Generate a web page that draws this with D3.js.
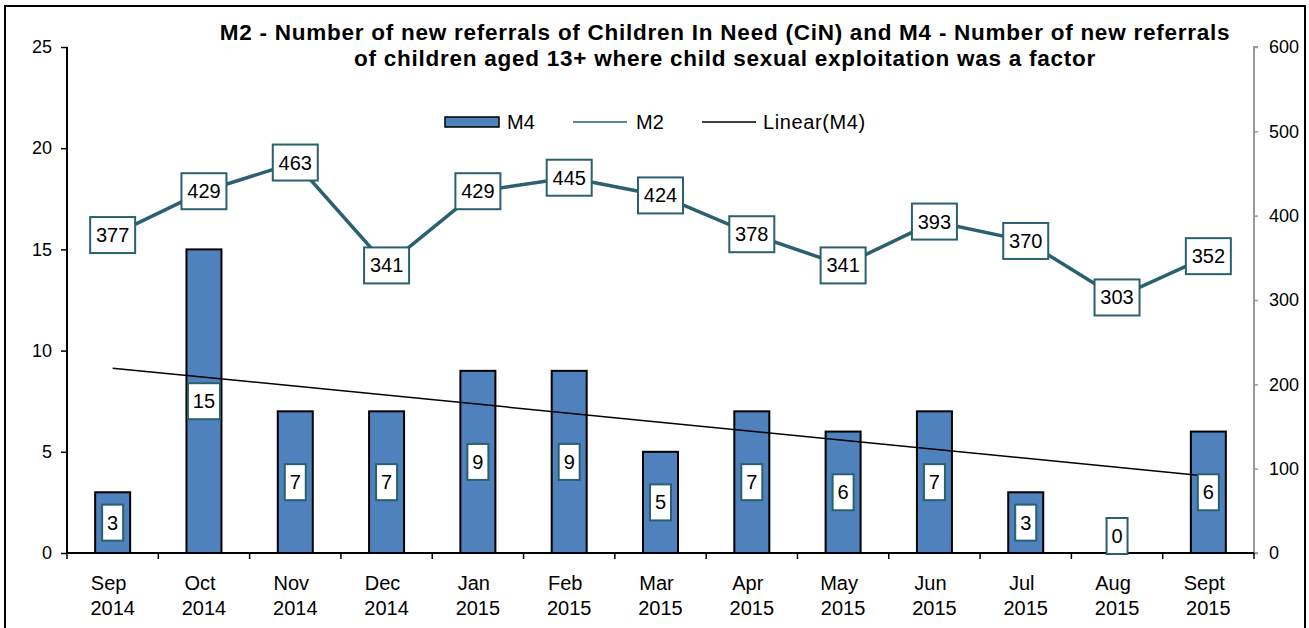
<!DOCTYPE html>
<html>
<head>
<meta charset="utf-8">
<script src="https://cdn.jsdelivr.net/npm/d3@7"></script>
<style>
  body { margin: 0; background: #fff; }
  svg { font-family: "Liberation Sans", Arial, sans-serif; }
</style>
</head>
<body>
<svg width="1309" height="628"></svg>
<script>
var months = ["Sep", "Oct", "Nov", "Dec", "Jan", "Feb", "Mar", "Apr", "May", "Jun", "Jul", "Aug", "Sept"];
var years = ["2014", "2014", "2014", "2014", "2015", "2015", "2015", "2015", "2015", "2015", "2015", "2015", "2015"];
var m4 = [3, 15, 7, 7, 9, 9, 5, 7, 6, 7, 3, 0, 6];
var m2 = [377, 429, 463, 341, 429, 445, 424, 378, 341, 393, 370, 303, 352];
var leftTicks = [0, 5, 10, 15, 20, 25];
var rightTicks = [0, 100, 200, 300, 400, 500, 600];
var titleLines = ["M2 - Number of new referrals of Children In Need (CiN) and M4 - Number of new referrals",
                  "of children aged 13+ where child sexual exploitation was a factor"];

var teal = "#2a6070", barFill = "#4f81bd";

var svg = d3.select("svg"),
    margin = {top: 47, right: 55, bottom: 75, left: 67},
    width = 1309 - margin.left - margin.right,
    height = 628 - margin.top - margin.bottom;

// outer border
svg.append("rect")
  .attr("x", 5).attr("y", 6).attr("width", 1300).attr("height", 630)
  .attr("fill", "none").attr("stroke", "#000").attr("stroke-width", 2);

var g = svg.append("g").attr("transform", "translate(" + margin.left + "," + margin.top + ")");

var idx = d3.range(months.length);
var x = d3.scaleBand().domain(idx).range([0, width]);
var yL = d3.scaleLinear().domain([0, 25]).range([height, 0]);
var yR = d3.scaleLinear().domain([0, 600]).range([height, 0]);
var cx = function(i) { return x(i) + x.bandwidth() / 2; };

// title
svg.append("g").selectAll("text")
  .data(titleLines)
  .enter().append("text")
    .attr("x", 725)
    .attr("y", function(d, i) { return 40 + i * 26; })
    .attr("text-anchor", "middle")
    .attr("font-weight", "bold")
    .attr("font-size", 22.5)
    .attr("letter-spacing", 0.75)
    .text(function(d) { return d; });

// left axis
var axL = g.append("g")
  .call(d3.axisLeft(yL).tickValues(leftTicks).tickSize(6).tickPadding(9));
axL.select(".domain").attr("stroke-width", 2).attr("d", "M0," + height + "V0");
axL.selectAll("line").attr("stroke-width", 1.5);
axL.selectAll("text").attr("font-size", 18).attr("fill", "#000");

// right axis
var axR = g.append("g")
  .attr("transform", "translate(" + width + ",0)")
  .call(d3.axisRight(yR).tickValues(rightTicks).tickSize(4).tickPadding(11));
axR.select(".domain").attr("stroke", "#999").attr("stroke-width", 2).attr("d", "M4,0H0V" + height + "H4");
axR.selectAll("line").attr("stroke", "#999").attr("stroke-width", 1.5);
axR.selectAll("text").attr("font-size", 18).attr("fill", "#000");

// bars
g.selectAll(".bar")
  .data(m4)
  .enter().append("rect")
    .attr("class", "bar")
    .attr("x", function(d, i) { return cx(i) - 17.5; })
    .attr("width", 35)
    .attr("y", function(d) { return yL(d); })
    .attr("height", function(d) { return height - yL(d); })
    .attr("fill", barFill)
    .attr("stroke", "#000")
    .attr("stroke-width", 2)
    .style("display", function(d) { return d > 0 ? null : "none"; });

// x axis baseline + ticks at band boundaries
g.append("line")
  .attr("x1", 0).attr("x2", width).attr("y1", height).attr("y2", height)
  .attr("stroke", "#000").attr("stroke-width", 2);
g.selectAll(".xtick")
  .data(d3.range(months.length + 1))
  .enter().append("line")
    .attr("class", "xtick")
    .attr("x1", function(i) { return i * x.step(); })
    .attr("x2", function(i) { return i * x.step(); })
    .attr("y1", height).attr("y2", height + 6)
    .attr("stroke", "#000").attr("stroke-width", 1.5);

var xl = g.selectAll(".xlab")
  .data(idx)
  .enter().append("text")
    .attr("class", "xlab")
    .attr("text-anchor", "middle")
    .attr("font-size", 20);
xl.append("tspan")
  .attr("x", function(i) { return cx(i) - 4; })
  .attr("y", height + 37)
  .text(function(i) { return months[i]; });
xl.append("tspan")
  .attr("x", function(i) { return cx(i); })
  .attr("y", height + 62)
  .text(function(i) { return years[i]; });

// linear trend of M4 (least squares)
var mx = d3.mean(idx), my = d3.mean(m4);
var slope = d3.sum(idx, function(i) { return (i - mx) * (m4[i] - my); }) /
            d3.sum(idx, function(i) { return (i - mx) * (i - mx); });
var trend = function(i) { return my + slope * (i - mx); };
var last = idx.length - 1;
g.append("line")
  .attr("x1", cx(0)).attr("y1", yL(trend(0)))
  .attr("x2", cx(last)).attr("y2", yL(trend(last)))
  .attr("stroke", "#000").attr("stroke-width", 1.5);

// M2 line
g.append("path")
  .datum(m2)
  .attr("fill", "none")
  .attr("stroke", teal)
  .attr("stroke-width", 3.5)
  .attr("d", d3.line().x(function(d, i) { return cx(i); }).y(function(d) { return yR(d); }));

function labelBox(sel, w, h) {
  sel.append("rect")
    .attr("x", -w / 2).attr("y", -h / 2).attr("width", w).attr("height", h)
    .attr("fill", "#fff").attr("stroke", teal).attr("stroke-width", 2);
  sel.append("text")
    .attr("text-anchor", "middle")
    .attr("dy", "0.35em")
    .attr("font-size", 20)
    .text(function(d) { return d; });
}

// M2 labels
g.selectAll(".m2lab")
  .data(m2)
  .enter().append("g")
    .attr("class", "m2lab")
    .attr("transform", function(d, i) { return "translate(" + cx(i) + "," + yR(d) + ")"; })
    .call(labelBox, 45, 36);

// M4 labels
g.selectAll(".m4lab")
  .data(m4)
  .enter().append("g")
    .attr("class", "m4lab")
    .attr("transform", function(d, i) {
      var y = d > 0 ? (yL(d) + height) / 2 : height - 17;
      return "translate(" + cx(i) + "," + y + ")";
    })
    .each(function(d) {
      labelBox(d3.select(this), String(d).length > 1 ? 32 : 21, 36);
    });

// legend
var leg = svg.append("g").attr("transform", "translate(0,122)");
leg.append("rect").attr("x", 445).attr("y", -5).attr("width", 54).attr("height", 10)
  .attr("fill", barFill).attr("stroke", "#000").attr("stroke-width", 1.5);
leg.append("text").attr("x", 507).attr("y", 7).attr("font-size", 20).text("M4");
leg.append("line").attr("x1", 573).attr("x2", 627).attr("y1", 0).attr("y2", 0)
  .attr("stroke", teal).attr("stroke-width", 1.5);
leg.append("text").attr("x", 636).attr("y", 7).attr("font-size", 20).text("M2");
leg.append("line").attr("x1", 702).attr("x2", 756).attr("y1", 0).attr("y2", 0)
  .attr("stroke", "#000").attr("stroke-width", 1.5);
leg.append("text").attr("x", 763).attr("y", 7).attr("font-size", 20).attr("letter-spacing", 0.6).text("Linear(M4)");
</script>
</body>
</html>
